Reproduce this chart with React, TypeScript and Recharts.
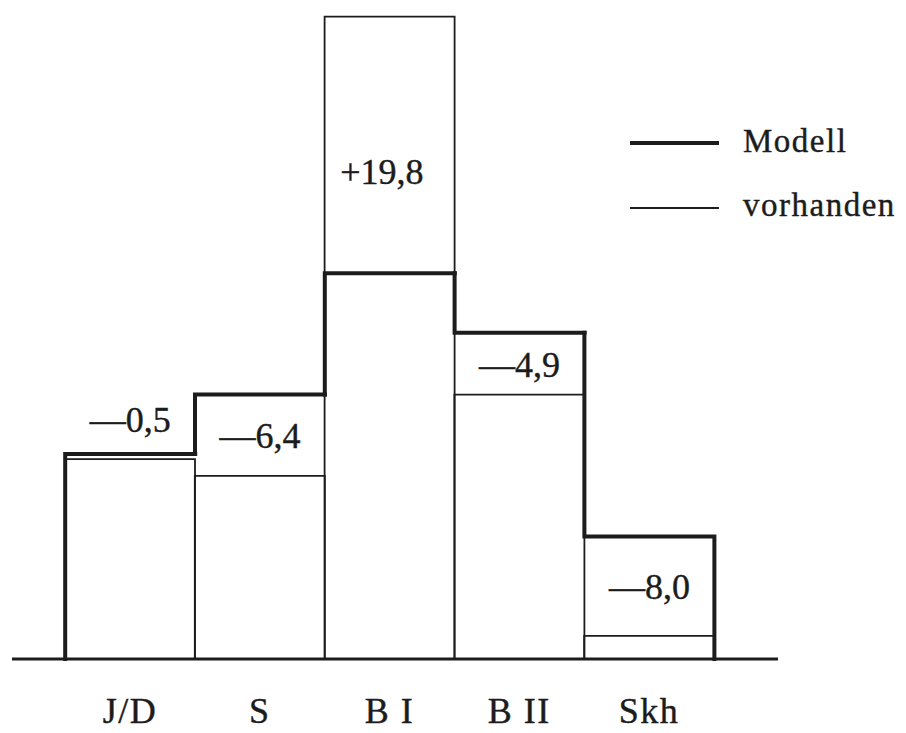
import React from "react";
import { BarChart, Bar, XAxis, YAxis, Legend, LabelList } from "recharts";

const categories = ["J/D", "S", "B I", "B II", "Skh"];
const modell = [15.9, 20.5, 29.9, 25.3, 9.5];
const vorhanden = [15.5, 14.2, 49.8, 20.5, 1.8];
const diffLabels = ["—0,5", "—6,4", "+19,8", "—4,9", "—8,0"];

const data = categories.map((name, i) => ({
  name,
  modell: modell[i],
  vorhanden: vorhanden[i],
  diff: diffLabels[i],
}));

const INK = "#1c1c1c";
const FONT = "'Liberation Serif', 'DejaVu Serif', serif";

// thick stepped outline for the model values
const ModellStep = (props: any) => {
  const { x, y, width, height, index } = props;
  const base = y + height;
  const k = height / modell[index];
  const prev = index > 0 ? modell[index - 1] : 0;
  const yPrev = base - k * prev;
  let d = `M${x},${yPrev} L${x},${y} L${x + width},${y}`;
  if (index === modell.length - 1) d += ` L${x + width},${base}`;
  return (
    <path
      d={d}
      fill="none"
      stroke={INK}
      strokeWidth={4}
      strokeLinejoin="miter"
      strokeLinecap="square"
    />
  );
};

const DiffLabel = (props: any) => {
  const vb = props.viewBox || props;
  const { x, y, width, height } = vb;
  const index = props.index;
  if (index == null) return null;
  const base = y + height;
  const k = height / modell[index];
  const vTop = base - k * vorhanden[index];
  const top = Math.min(y, vTop);
  const bot = Math.max(y, vTop);
  let ty: number;
  let tx = x + width / 2;
  if (bot - top < 20) {
    ty = top - 22;
  } else if (vorhanden[index] > modell[index]) {
    ty = top + 0.6 * (bot - top) + 13;
    tx -= 8;
  } else {
    ty = top + 0.5 * (bot - top) + 13;
  }
  return (
    <text
      x={tx}
      y={ty}
      textAnchor="middle"
      fill={INK}
      stroke={INK}
      strokeWidth={0.4}
      fontFamily={FONT}
      fontSize={36}
    >
      {diffLabels[index]}
    </text>
  );
};

const CatTick = (props: any) => {
  const { x, y, payload } = props;
  return (
    <text
      x={x}
      y={y + 64}
      textAnchor="middle"
      fill={INK}
      stroke={INK}
      strokeWidth={0.4}
      fontFamily={FONT}
      fontSize={36}
      letterSpacing={1.5}
    >
      {payload.value}
    </text>
  );
};

const LegendBox = () => (
  <svg width={285} height={110}>
    <line x1={4} y1={23} x2={93} y2={23} stroke={INK} strokeWidth={4} />
    <text
      x={117}
      y={32}
      fill={INK}
      stroke={INK}
      strokeWidth={0.4}
      fontFamily={FONT}
      fontSize={33}
      letterSpacing={1.5}
    >
      Modell
    </text>
    <line x1={4} y1={88} x2={93} y2={88} stroke={INK} strokeWidth={1.8} />
    <text
      x={117}
      y={96}
      fill={INK}
      stroke={INK}
      strokeWidth={0.4}
      fontFamily={FONT}
      fontSize={33}
      letterSpacing={1.5}
    >
      vorhanden
    </text>
  </svg>
);

export default function App() {
  return (
    <div style={{ position: "absolute", left: 0, top: 0, background: "#fff" }}>
      <BarChart
        width={906}
        height={733}
        data={data}
        margin={{ top: 14, right: 128, bottom: 14, left: 12 }}
        barCategoryGap={0}
        barGap="-100%"
      >
        <XAxis
          dataKey="name"
          height={60}
          padding={{ left: 53, right: 64 }}
          axisLine={{ stroke: INK, strokeWidth: 3 }}
          tickLine={false}
          tickSize={0}
          tickMargin={0}
          tick={<CatTick />}
          interval={0}
        />
        <YAxis hide domain={[0, 50]} />
        <Legend
          layout="vertical"
          align="center"
          verticalAlign="middle"
          content={<LegendBox />}
          wrapperStyle={{ left: 626, top: 120, width: 285, height: 110 }}
        />
        <Bar
          dataKey="vorhanden"
          fill="none"
          stroke={INK}
          strokeWidth={1.8}
          isAnimationActive={false}
        />
        <Bar dataKey="modell" shape={<ModellStep />} isAnimationActive={false}>
          <LabelList dataKey="diff" content={<DiffLabel />} />
        </Bar>
      </BarChart>
    </div>
  );
}
